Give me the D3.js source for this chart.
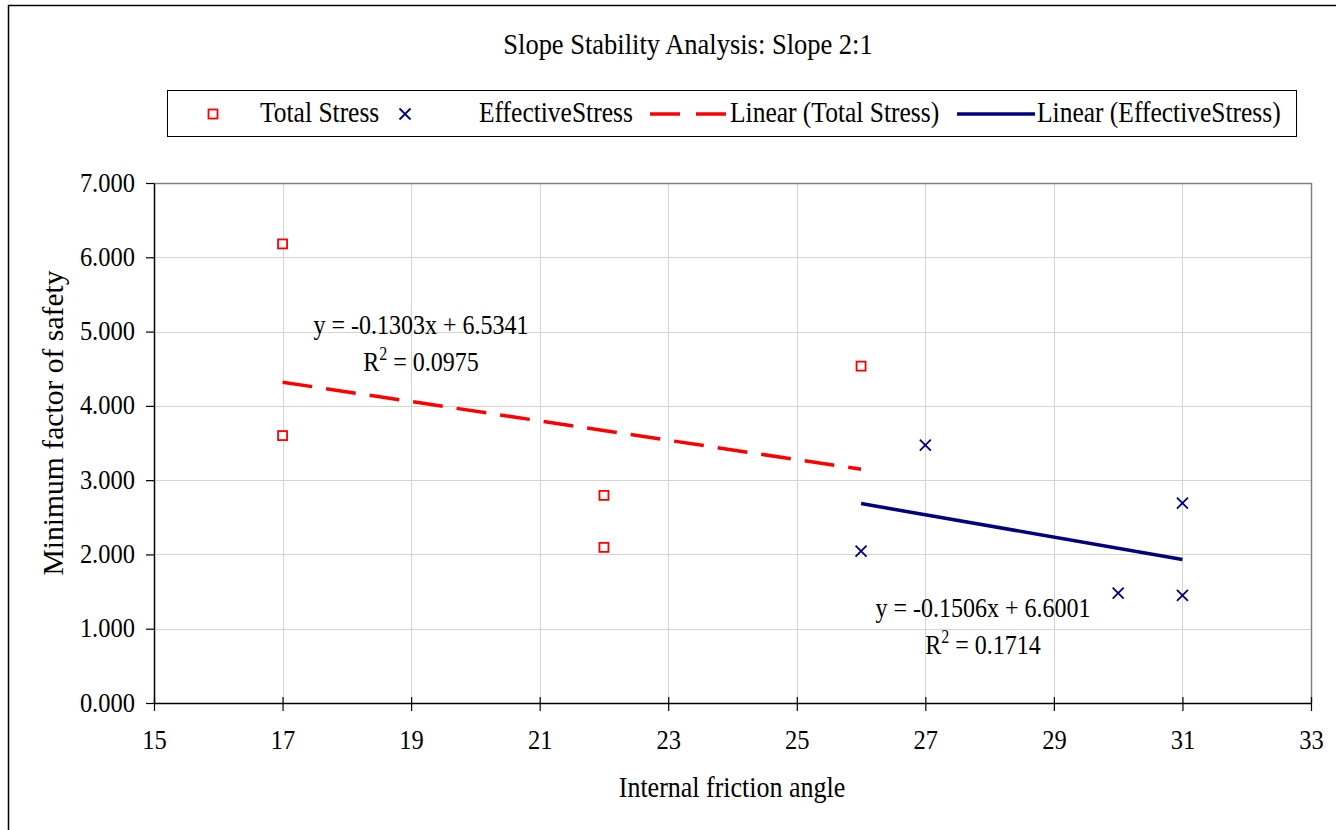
<!DOCTYPE html>
<html>
<head>
<meta charset="utf-8">
<script src="https://cdn.jsdelivr.net/npm/d3@7"></script>
<style>
  body { margin: 0; background: #fff; }
  svg { display: block; font-family: "Liberation Serif", "Times New Roman", serif; }
</style>
</head>
<body>
<svg id="chart" width="1336" height="830"></svg>
<script>
// Internal friction angle vs. minimum factor of safety
const totalStressX = [17, 17, 22, 22, 26];
const totalStressY = [6.18, 3.60, 2.795, 2.095, 4.535];
const effectiveStressX = [26, 27, 30, 31, 31];
const effectiveStressY = [2.045, 3.47, 1.48, 1.45, 2.69];

// Trendline coefficients as displayed on the chart
const totalFit = { slope: -0.1303, intercept: 6.5341, r2: "0.0975", label: "y = -0.1303x + 6.5341" };
const effFit = { slope: -0.1506, intercept: 6.6001, r2: "0.1714", label: "y = -0.1506x + 6.6001" };

const xTicks = [15, 17, 19, 21, 23, 25, 27, 29, 31, 33];
const yTicks = [0, 1, 2, 3, 4, 5, 6, 7];
const legendLabels = ["Total Stress", "EffectiveStress", "Linear (Total Stress)", "Linear (EffectiveStress)"];

const RED = "#ff0000", NAVY = "#000080";
const STRETCH = 1.14; // glyphs are drawn slightly taller than wide
const svg = d3.select("#chart");

// Text helper: positioned by transform so the vertical stretch keeps the baseline
function label(parent, x, y, str, size, anchor = "start") {
  return parent.append("text")
    .attr("transform", `translate(${x},${y}) scale(1,${STRETCH})`)
    .attr("text-anchor", anchor)
    .style("font-size", size + "px")
    .text(str);
}

// Outer chart frame
svg.append("path")
  .attr("d", "M8.5,831 V5.5 H1337")
  .attr("fill", "none").attr("stroke", "#000").attr("stroke-width", 1.5);

const plot = { left: 154, right: 1311, top: 183, bottom: 703 };
const x = d3.scaleLinear().domain([15, 33]).range([plot.left, plot.right]);
const y = d3.scaleLinear().domain([0, 7]).range([plot.bottom, plot.top]);

// Gridlines
const grid = svg.append("g");
grid.selectAll(".gx").data(xTicks.slice(1, -1)).join("line")
  .attr("x1", d => Math.round(x(d)) + 0.5).attr("x2", d => Math.round(x(d)) + 0.5)
  .attr("y1", plot.top).attr("y2", plot.bottom)
  .attr("stroke", "#d4d4d4").attr("stroke-width", 1);
grid.selectAll(".gy").data(yTicks.slice(1, -1)).join("line")
  .attr("y1", d => Math.round(y(d)) + 0.5).attr("y2", d => Math.round(y(d)) + 0.5)
  .attr("x1", plot.left).attr("x2", plot.right)
  .attr("stroke", "#d4d4d4").attr("stroke-width", 1);

// Top and right frame of the plot area
svg.append("path")
  .attr("d", `M${plot.left},${plot.top + 0.5} H${plot.right + 0.5} V${plot.bottom}`)
  .attr("fill", "none").attr("stroke", "#808080").attr("stroke-width", 1.5);

// Axes
const xAxis = d3.axisBottom(x).tickValues(xTicks).tickSize(8).tickSizeOuter(0);
const yAxis = d3.axisLeft(y).tickValues(yTicks).tickSize(8).tickSizeOuter(0)
  .tickFormat(d3.format(".3f"));

const gx = svg.append("g").attr("transform", `translate(0,${plot.bottom})`).call(xAxis);
gx.selectAll(".tick line").attr("y1", -6);
const gy = svg.append("g").attr("transform", `translate(${plot.left},0)`).call(yAxis);
[gx, gy].forEach(g => {
  g.select(".domain").attr("stroke", "#000").attr("stroke-width", 1.5);
  g.selectAll(".tick line").attr("stroke", "#000").attr("stroke-width", 1.2);
  g.selectAll(".tick text").attr("fill", "#000")
    .style("font-family", "'Liberation Serif', serif").style("font-size", "24.5px");
});
gx.selectAll(".tick text")
  .attr("y", null).attr("dy", null)
  .attr("transform", `translate(0,46) scale(1,${STRETCH})`);
gy.selectAll(".tick text")
  .attr("x", null).attr("dy", null)
  .attr("transform", `translate(-19,8) scale(1,${STRETCH})`);

// Chart title and axis titles
label(svg, 688, 54, "Slope Stability Analysis: Slope 2:1", 26.5, "middle");
label(svg, 732, 797, "Internal friction angle", 26, "middle");
svg.append("text")
  .attr("transform", `translate(63,423) rotate(-90) scale(${STRETCH},${STRETCH})`)
  .attr("text-anchor", "middle").style("font-size", "26px").text("Minimum factor of safety");

// Trendlines
function fitLine(fit, xs) {
  const ext = d3.extent(xs);
  return ext.map(v => [v, fit.slope * v + fit.intercept]);
}
const line = d3.line().x(d => x(d[0])).y(d => y(d[1]));
svg.append("path").datum(fitLine(totalFit, totalStressX)).attr("d", line)
  .attr("stroke", RED).attr("stroke-width", 3.5).attr("fill", "none")
  .attr("stroke-dasharray", "30,14");
svg.append("path").datum(fitLine(effFit, effectiveStressX)).attr("d", line)
  .attr("stroke", NAVY).attr("stroke-width", 3.5).attr("fill", "none");

// Markers
function squareMarker(g, cx, cy) {
  g.append("rect").attr("x", cx - 4.5).attr("y", cy - 4.5).attr("width", 9).attr("height", 9)
    .attr("fill", "#fff").attr("stroke", RED).attr("stroke-width", 1.8);
}
function crossMarker(g, cx, cy) {
  const s = 5.5;
  g.append("path").attr("d", `M${cx - s},${cy - s}L${cx + s},${cy + s}M${cx - s},${cy + s}L${cx + s},${cy - s}`)
    .attr("stroke", NAVY).attr("stroke-width", 1.8).attr("fill", "none");
}
const marks = svg.append("g");
totalStressX.forEach((v, i) => squareMarker(marks, x(v), y(totalStressY[i])));
effectiveStressX.forEach((v, i) => crossMarker(marks, x(v), y(effectiveStressY[i])));

// Trendline equations
function equation(fit, cx, cy) {
  const g = svg.append("g");
  label(g, cx, cy, fit.label, 24, "middle");
  const t = label(g, cx, cy + 37, "", 24, "middle");
  t.append("tspan").text("R");
  t.append("tspan").attr("dy", -10).style("font-size", "16px").text("2");
  t.append("tspan").attr("dy", 10).text(" = " + fit.r2);
}
equation(totalFit, 421, 334);
equation(effFit, 983, 617);

// Legend
const legend = svg.append("g");
legend.append("rect").attr("x", 167.5).attr("y", 90.5).attr("width", 1129).attr("height", 46)
  .attr("fill", "#fff").attr("stroke", "#000").attr("stroke-width", 1);
const ly = 114;
squareMarker(legend, 213, ly);
label(legend, 260, ly + 8, legendLabels[0], 25.5);
crossMarker(legend, 405, ly);
label(legend, 479, ly + 8, legendLabels[1], 25.5);
legend.append("line").attr("x1", 650).attr("x2", 726).attr("y1", ly).attr("y2", ly)
  .attr("stroke", RED).attr("stroke-width", 3.5).attr("stroke-dasharray", "30,16");
label(legend, 730, ly + 8, legendLabels[2], 25.5);
legend.append("line").attr("x1", 957).attr("x2", 1035).attr("y1", ly).attr("y2", ly)
  .attr("stroke", NAVY).attr("stroke-width", 3.5);
label(legend, 1037, ly + 8, legendLabels[3], 25.5);
</script>
</body>
</html>
